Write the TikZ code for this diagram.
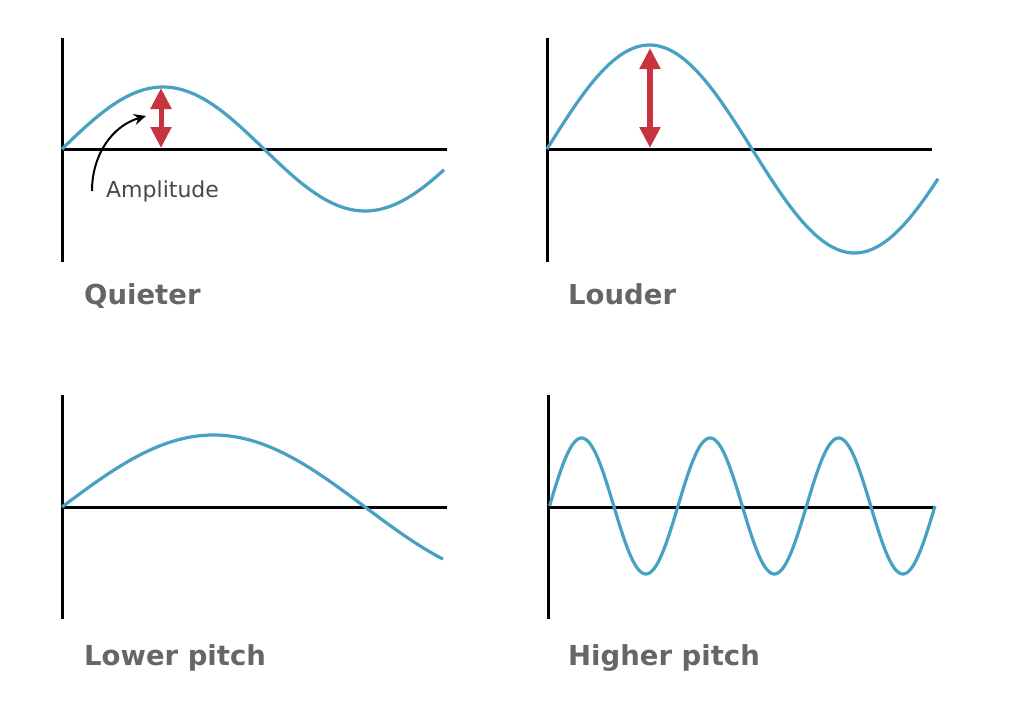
\documentclass[tikz,border=0pt]{standalone}
\usepackage{fontspec}
\setmainfont{DejaVu Sans}
\usepackage{tikz}
\usetikzlibrary{arrows.meta}

\definecolor{wavecol}{RGB}{72,160,194}
\definecolor{ampred}{RGB}{200,52,62}
\definecolor{labelgray}{RGB}{102,102,102}
\definecolor{notegray}{RGB}{72,72,72}

\begin{document}
\begin{tikzpicture}[
    x=1pt, y=-1pt,
    axis/.style={draw=black, line width=3pt},
    wave/.style={draw=wavecol, line width=3.2pt, smooth, samples=160},
    panel/.style={font=\fontsize{27.5}{32}\selectfont\bfseries, text=labelgray,
                  anchor=base west, inner sep=0pt},
    note/.style={font=\fontsize{22}{26}\selectfont, text=notegray,
                 anchor=base west, inner sep=0pt},
    amparrow/.style={draw=ampred, line width=5pt,
                     {Triangle[width=20pt,length=21pt]}-{Triangle[width=20pt,length=21pt]}},
    callout/.style={draw=black, line width=2pt, -{Stealth[length=12pt,width=11pt]}}
]
\useasboundingbox (0,0) rectangle (1010,720);

% Panel: quieter.
\draw[axis] (62,38) -- (62,262);
\draw[axis] (62,149) -- (447,149);
\draw[wave, domain=0:382] plot ({62+\x}, {149-62*sin(\x/404*360)});
\coordinate (qtop) at (161,88);
\coordinate (qbase) at (161,148);
\draw[amparrow] (qbase) -- (qtop);
\coordinate (qtail) at (92,191);
\coordinate (qtip) at (146,116);
\draw[callout] (qtail) .. controls (92,155) and (112,126) .. (qtip);
\node[note] (amplitude) at (106,197) {Amplitude};
\node[panel] (quieter) at (84,304) {Quieter};

% Panel: louder.
\draw[axis] (547,38) -- (547,262);
\draw[axis] (547,149) -- (932,149);
\draw[wave, domain=0:391] plot ({547+\x}, {149-104*sin(\x/410*360)});
\coordinate (ltop) at (650,48);
\coordinate (lbase) at (650,148);
\draw[amparrow, line width=6pt] (lbase) -- (ltop);
\node[panel] (louder) at (568,304) {Louder};

% Panel: lower pitch.
\draw[axis] (62,395) -- (62,619);
\draw[axis] (62,507) -- (447,507);
\draw[wave, domain=0:381] plot ({62+\x}, {507-72*sin(\x/606*360)});
\node[panel] (lower) at (84,665) {Lower pitch};

% Panel: higher pitch.
\draw[axis] (548,395) -- (548,619);
\draw[axis] (548,507) -- (935,507);
\draw[wave, domain=0:385.5, samples=300] plot ({549.5+\x}, {506-68*sin(\x/128.5*360)});
\node[panel] (higher) at (568,665) {Higher pitch};

\end{tikzpicture}
\end{document}
